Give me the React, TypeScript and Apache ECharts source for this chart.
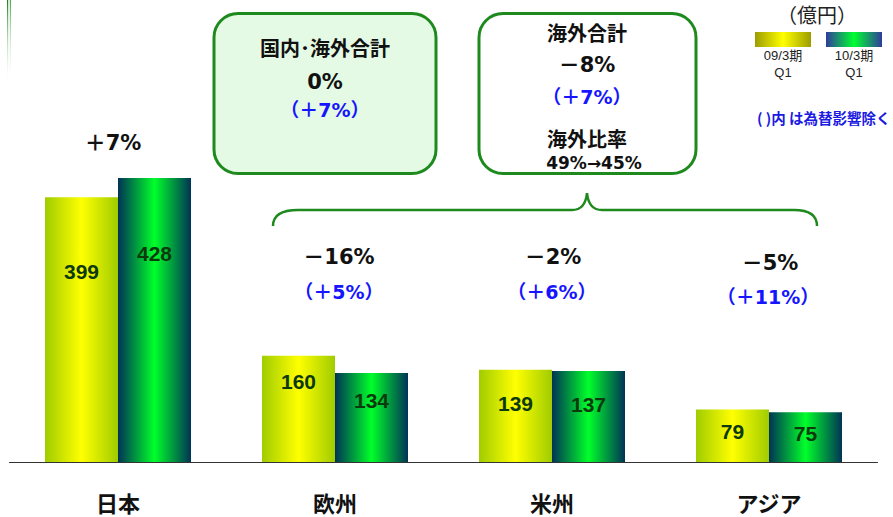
import React, { useEffect, useRef } from "react";
import * as echarts from "echarts";

const categories = ["日本", "欧州", "米州", "アジア"];
const seriesNames = ["09/3期 Q1", "10/3期 Q1"];
const fy09Q1 = [399, 160, 139, 79];
const fy10Q1 = [428, 134, 137, 75];
const yoyChange = ["＋7%", "－16%", "－2%", "－5%"];
const fxExcluded = ["", "（＋5%）", "（＋6%）", "（＋11%）"];
const totalTitle = "国内･海外合計";
const totalChange = "0%";
const totalFx = "（＋7%）";
const overseasTitle = "海外合計";
const overseasChange = "－8%";
const overseasFx = "（＋7%）";
const ratioTitle = "海外比率";
const ratioText = "49%→45%";
const unitText = "（億円）";
const legendLine1 = ["09/3期", "10/3期"];
const legendLine2 = ["Q1", "Q1"];
const noteText = "( )内 は為替影響除く";

// label distance from bar top (style only)
const labelDist09 = [64, 15, 23, 11];
const labelDist10 = [65, 17, 23, 11];

const JP = '"Noto Sans CJK JP", "Noto Sans", sans-serif';
const PCT = '"DejaVu Sans", "Noto Sans CJK JP", sans-serif';
const NUM = '"Liberation Sans", Arial, sans-serif';
const LEG = 'Arimo, "Liberation Sans", "DejaVu Sans", "Noto Sans CJK JP", sans-serif';

const hGrad = (edge: string, mid: string) =>
  new echarts.graphic.LinearGradient(0, 0, 1, 0, [
    { offset: 0, color: edge },
    { offset: 0.5, color: mid },
    { offset: 1, color: edge },
  ]);

const txt = (
  text: string,
  x: number,
  y: number,
  size: number,
  color: string,
  weight: string = "bold",
  align: string = "center",
  family: string = JP
) => ({
  type: "text",
  silent: true,
  style: {
    text,
    x,
    y,
    fill: color,
    fontSize: size,
    fontWeight: weight,
    fontFamily: family,
    align,
    verticalAlign: "middle",
    textAlign: align,
    textVerticalAlign: "middle",
  },
});

const BRACE =
  "M273,226 C273,215 282,210 298,210 L572,210 C582,210 586,203 587,193 C588,203 592,210 602,210 L794,210 C809,210 817,215 817,226";

echarts.graphic.registerShape("brace", echarts.graphic.extendPath(BRACE, {}) as any);

export default function App() {
  const ref = useRef<HTMLDivElement>(null);

  useEffect(() => {
    if (!ref.current) return;
    const chart = echarts.init(ref.current, undefined, { renderer: "svg" });

    const mkData = (vals: number[], dists: number[]) =>
      vals.map((v, i) => ({ value: v, label: { distance: dists[i] } }));

    const green = "#1e8a1e";
    const blue = "#1515ff";

    const graphics: any[] = [
      {
        type: "rect",
        silent: true,
        shape: { x: 7, y: 0, width: 1.2, height: 88 },
        style: {
          fill: new echarts.graphic.LinearGradient(0, 0, 0, 1, [
            { offset: 0, color: "#138013" },
            { offset: 1, color: "rgba(255,255,255,0)" },
          ]),
        },
      },
      {
        type: "rect",
        silent: true,
        shape: { x: 9.8, y: 0, width: 1.2, height: 84 },
        style: {
          fill: new echarts.graphic.LinearGradient(0, 0, 0, 1, [
            { offset: 0, color: "#4aa84a" },
            { offset: 1, color: "rgba(255,255,255,0)" },
          ]),
        },
      },
      {
        type: "rect",
        silent: true,
        shape: { x: 214, y: 13.5, width: 222, height: 160, r: 24 },
        style: { fill: "#e4fae4", stroke: green, lineWidth: 3 },
      },
      {
        type: "rect",
        silent: true,
        shape: { x: 479, y: 13.5, width: 217, height: 160, r: 24 },
        style: { fill: "#ffffff", stroke: green, lineWidth: 3 },
      },
      {
        type: "brace",
        x: 0,
        y: 0,
        scaleX: 1,
        scaleY: 1,
        silent: true,
        style: { fill: "none", stroke: green, lineWidth: 2.5 },
      },
      txt(totalTitle, 325, 47, 20, "#111"),
      txt(totalChange, 325, 82, 21, "#111", "bold", "center", PCT),
      txt(totalFx, 325, 110, 19, blue, "bold", "center", PCT),
      txt(overseasTitle, 587, 32, 20, "#111"),
      txt(overseasChange, 587, 65, 21, "#111", "bold", "center", PCT),
      txt(overseasFx, 587, 97, 19, blue, "bold", "center", PCT),
      txt(ratioTitle, 587, 138, 20, "#111"),
      txt(ratioText, 594, 163, 17, "#111", "bold", "center", PCT),
      txt(unitText, 817, 14, 20, "#222", "normal"),
      {
        type: "rect",
        silent: true,
        shape: { x: 755, y: 32, width: 56, height: 15 },
        style: { fill: hGrad("#9c9c00", "#ffff00") },
      },
      {
        type: "rect",
        silent: true,
        shape: { x: 826, y: 32, width: 56, height: 15 },
        style: { fill: hGrad("#2f3c9c", "#00ff30") },
      },
      txt(legendLine1[0], 783, 55, 13, "#222", "normal", "center", LEG),
      txt(legendLine2[0], 783, 72, 13, "#222", "normal", "center", LEG),
      txt(legendLine1[1], 854, 55, 13, "#222", "normal", "center", LEG),
      txt(legendLine2[1], 854, 72, 13, "#222", "normal", "center", LEG),
      txt(noteText, 757, 117, 14.5, "#1a1ae0", "bold", "left"),
    ];

    const yoyX = [113, 339, 553, 770];
    const yoyY = [143, 257, 257, 263];
    const fxX = [0, 339, 552, 768];
    const fxY = [0, 292, 292, 297];
    categories.forEach((_, i) => {
      graphics.push(txt(yoyChange[i], yoyX[i], yoyY[i], 21, "#111", "bold", "center", PCT));
      if (fxExcluded[i]) graphics.push(txt(fxExcluded[i], fxX[i], fxY[i], 19, blue, "bold", "center", PCT));
    });

    chart.setOption({
      animation: false,
      backgroundColor: "#ffffff",
      grid: { left: 9.5, right: 15.5, top: 64, bottom: 55, containLabel: false },
      xAxis: {
        type: "category",
        data: categories,
        axisLine: { lineStyle: { color: "#333333", width: 1.2 } },
        axisTick: { show: false },
        axisLabel: {
          color: "#111",
          fontSize: 22,
          lineHeight: 22,
          fontWeight: "bold",
          fontFamily: JP,
          margin: 29,
        },
      },
      yAxis: { type: "value", min: 0, max: 600, show: false, splitLine: { show: false } },
      series: [
        {
          name: seriesNames[0],
          type: "bar",
          barWidth: 73,
          barGap: "0%",
          data: mkData(fy09Q1, labelDist09),
          itemStyle: { color: hGrad("#a0cc00", "#ffff00") },
          label: {
            show: true,
            position: "insideTop",
            color: "#0d3a0d",
            fontSize: 21,
            fontWeight: "bold",
            fontFamily: NUM,
          },
        },
        {
          name: seriesNames[1],
          type: "bar",
          barWidth: 73,
          barGap: "0%",
          data: mkData(fy10Q1, labelDist10),
          itemStyle: { color: hGrad("#003355", "#00ff2a") },
          label: {
            show: true,
            position: "insideTop",
            color: "#0d3a0d",
            fontSize: 21,
            fontWeight: "bold",
            fontFamily: NUM,
          },
        },
      ],
      graphic: graphics,
    });

    return () => chart.dispose();
  }, []);

  return (
    <div
      ref={ref}
      style={{ position: "fixed", left: 0, top: 0, width: 893, height: 517, background: "#fff" }}
    />
  );
}
